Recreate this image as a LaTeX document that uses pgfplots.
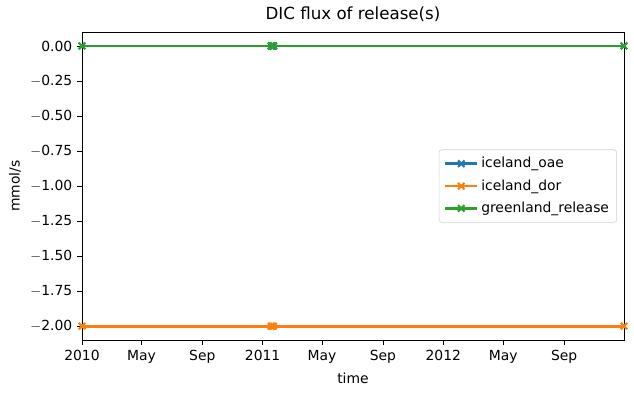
\documentclass[border=0pt]{standalone}
\usepackage{pgfplots}
\pgfplotsset{compat=1.18}
\usepackage{fontspec}
\setmainfont{DejaVu Sans}
\definecolor{tabblue}{HTML}{1F77B4}
\definecolor{taborange}{HTML}{FF7F0E}
\definecolor{tabgreen}{HTML}{2CA02C}
\pgfplotsset{
  ser/.style={#1, line width=2pt, mark=x, mark size=3.3pt, every mark/.append style={line width=1.5pt}},
}
\begin{document}
\begin{tikzpicture}
\begin{axis}[
  scale only axis,
  width=390pt, height=221.8pt,
  xmin=0, xmax=1095,
  ymin=-2100000, ymax=100000,
  xtick={0,120,243,365,485,608,730,851,974},
  xticklabels={2010,May,Sep,2011,May,Sep,2012,May,Sep},
  ytick={-2000000,-1750000,-1500000,-1250000,-1000000,-750000,-500000,-250000,0},
  yticklabels={$-$2.00,$-$1.75,$-$1.50,$-$1.25,$-$1.00,$-$0.75,$-$0.50,$-$0.25,0.00},
  scaled y ticks=false,
  /pgf/number format/assume math mode=true,
  tick align=outside,
  xtick pos=bottom, ytick pos=left,
  major tick length=3.5pt,
  tick style={black, line width=0.6pt},
  axis line style={line width=0.6pt},
  ticklabel style={font=\fontsize{10}{12}\selectfont},
  xlabel={time}, ylabel={mmol/s},
  label style={font=\fontsize{10}{12}\selectfont},
  title={DIC flux of release(s)},
  title style={font=\fontsize{12}{14}\selectfont, yshift=-2pt},
  legend style={at={(rel axis cs:0.987,0.5)}, anchor=east, font=\fontsize{10}{12}\selectfont,
    draw=black!18, rounded corners=2pt, row sep=3pt, inner xsep=3.5pt, inner ysep=3.5pt,
    cells={anchor=west}},
  legend image code/.code={\draw[mark repeat=2,mark phase=2,#1] plot coordinates {(0cm,0cm) (0.4cm,0cm) (0.8cm,0cm)};},
  legend cell align=left,
]
\addplot[ser=tabblue] table {
x y
0 0
382 0
384.5 0
387 0
1095 0
};
\addlegendentry{iceland\_oae}
\addplot[ser=taborange] table {
x y
0 -2000000
382 -2000000
384.5 -2000000
387 -2000000
1095 -2000000
};
\addlegendentry{iceland\_dor}
\addplot[ser=tabgreen] table {
x y
0 0
382 0
384.5 0
387 0
1095 0
};
\addlegendentry{greenland\_release}
\coordinate (sw) at (rel axis cs:0,0);
\coordinate (ne) at (rel axis cs:1,1);
\node[anchor=south west, font=\fontsize{10}{12}\selectfont, inner sep=0pt] at ([yshift=3pt]rel axis cs:0,1) {1e6};
\end{axis}
\path ([shift={(-59pt,-38.2pt)}]sw) rectangle ([shift={(7.2pt,23pt)}]ne);
\end{tikzpicture}
\end{document}
